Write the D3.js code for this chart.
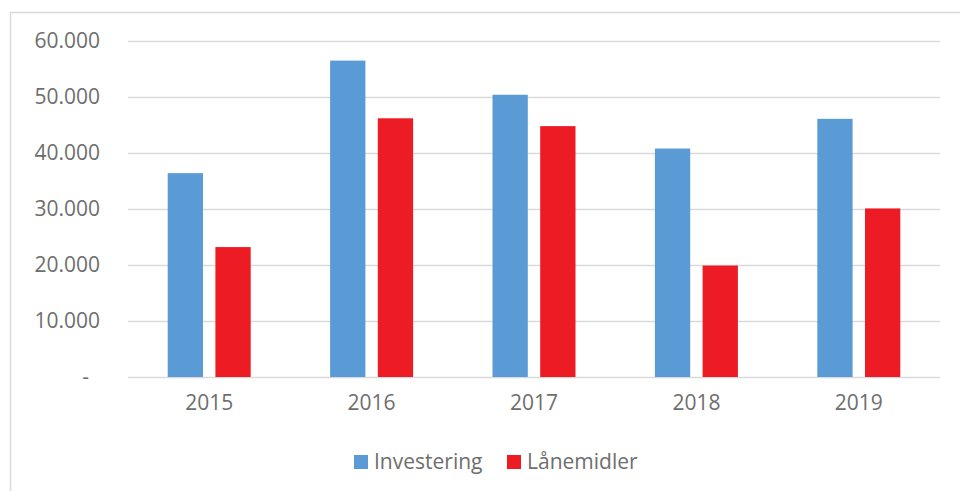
<!DOCTYPE html>
<html>
<head>
<meta charset="utf-8">
<script src="https://cdn.jsdelivr.net/npm/d3@7"></script>
<style>
  body { margin: 0; background: #fff; }
  svg { display: block; font-family: "Open Sans", sans-serif; }
</style>
</head>
<body>
<div id="chart"></div>
<script>
const years = ['2015', '2016', '2017', '2018', '2019'];
const investering = [36400, 56500, 50400, 40800, 46100];
const laanemidler = [23200, 46200, 44800, 19900, 30100];
const seriesNames = ['Investering', 'Lånemidler'];
const yTicks = [0, 10000, 20000, 30000, 40000, 50000, 60000];

const width = 960, height = 491;
const margin = {top: 41, left: 128, right: 20, bottom: 114};
const colors = ['#5b9bd5', '#ed1c24'];
const textColor = '#6e6e6e';

const svg = d3.select('#chart').append('svg')
  .attr('width', width)
  .attr('height', height);

// outer frame
svg.append('rect')
  .attr('x', 10.5).attr('y', 12.5)
  .attr('width', 1000).attr('height', 600)
  .attr('fill', '#fff')
  .attr('stroke', '#d9d9d9')
  .attr('stroke-width', 1.5);

const plotW = width - margin.left - margin.right;
const plotH = height - margin.top - margin.bottom;

const g = svg.append('g')
  .attr('transform', `translate(${margin.left},${margin.top})`);

const x0 = d3.scaleBand().domain(years).range([0, plotW]).paddingInner(0).paddingOuter(0);
const x1 = d3.scaleBand().domain(seriesNames).range([x0.bandwidth() / 2 - 41.5, x0.bandwidth() / 2 + 41.5]).paddingInner(0.26);
const y = d3.scaleLinear().domain([0, 60000]).range([plotH, 0]);

const fmt = v => v === 0 ? '-' : d3.format(',')(v).replace(/,/g, '.');

// gridlines
g.append('g')
  .selectAll('line')
  .data(yTicks)
  .join('line')
  .attr('x1', 0).attr('x2', plotW)
  .attr('y1', d => Math.round(y(d)) + 0.5)
  .attr('y2', d => Math.round(y(d)) + 0.5)
  .attr('stroke', '#d9d9d9')
  .attr('stroke-width', 1.5);

// y axis labels
const yAxis = g.append('g')
  .call(d3.axisLeft(y).tickValues(yTicks).tickFormat(fmt).tickSize(0).tickPadding(28));
yAxis.select('.domain').remove();
yAxis.selectAll('text')
  .attr('fill', textColor)
  .style('font-size', '21px')
  .style('font-family', '"Open Sans", sans-serif')
  .attr('dx', d => d === 0 ? -11 : 0);

// bars
const data = years.map((yr, i) => ({year: yr, values: [investering[i], laanemidler[i]]}));

g.selectAll('.year')
  .data(data)
  .join('g')
  .attr('class', 'year')
  .attr('transform', d => `translate(${x0(d.year)},0)`)
  .selectAll('rect')
  .data(d => d.values.map((v, i) => ({key: seriesNames[i], value: v, i: i})))
  .join('rect')
  .attr('x', d => x1(d.key))
  .attr('width', x1.bandwidth())
  .attr('y', d => y(d.value))
  .attr('height', d => y(0) - y(d.value))
  .attr('fill', d => colors[d.i]);

// x axis
const xAxis = g.append('g')
  .attr('transform', `translate(0,${plotH})`)
  .call(d3.axisBottom(x0).tickSize(0).tickPadding(18));
xAxis.select('.domain').remove();
xAxis.selectAll('text')
  .attr('fill', textColor)
  .style('font-size', '21px')
  .style('font-family', '"Open Sans", sans-serif');

// legend
const legendX = [354, 507];
const legend = svg.append('g')
  .selectAll('g')
  .data(seriesNames)
  .join('g')
  .attr('transform', (d, i) => `translate(${legendX[i]},455)`);

legend.append('rect')
  .attr('width', 14).attr('height', 14)
  .attr('fill', (d, i) => colors[i]);

legend.append('text')
  .attr('x', 20).attr('y', 14)
  .attr('fill', textColor)
  .style('font-size', '21px')
  .text(d => d);
</script>
</body>
</html>
